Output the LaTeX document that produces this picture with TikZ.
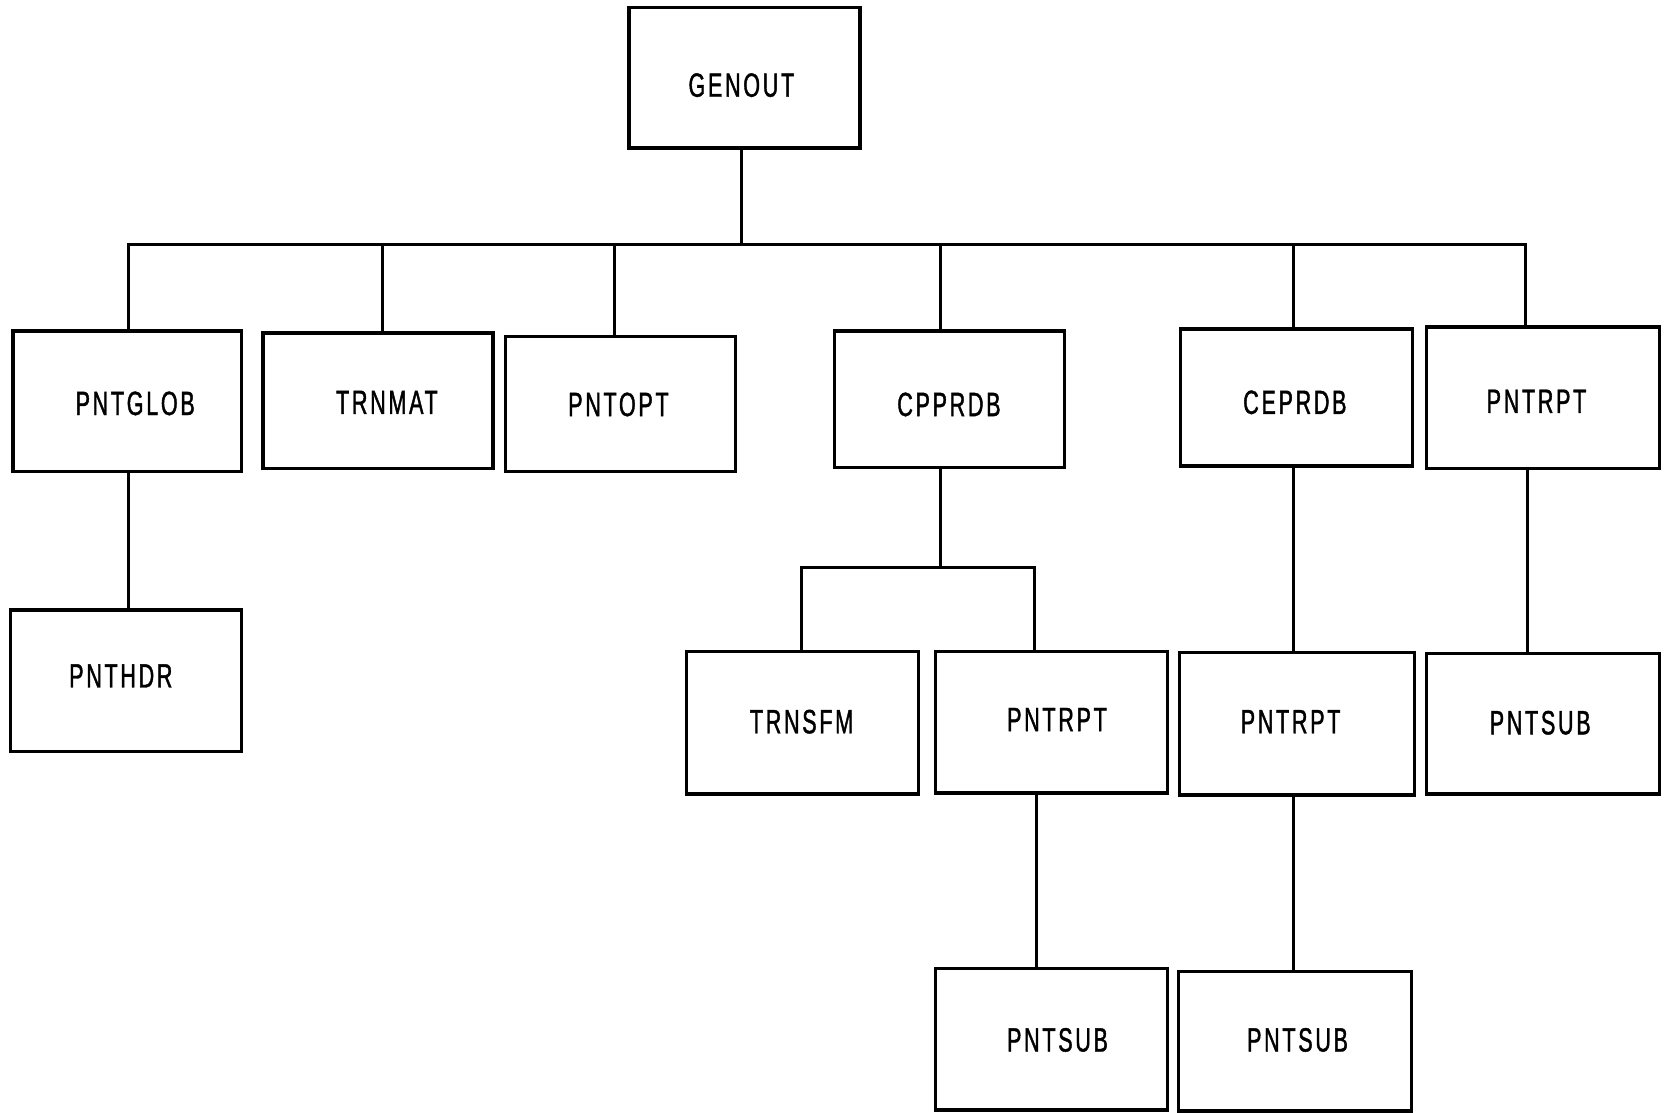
\documentclass[tikz,border=0pt]{standalone}
\usepackage{fontspec}
\newfontfamily\boxfont{Liberation Sans}[FakeStretch=0.64,LetterSpace=8,FakeBold=1.2]
\begin{document}
\begin{tikzpicture}[x=0.02cm,y=-0.02cm,
  box/.style 2 args={draw,line width=1.9pt,inner sep=0pt,
    minimum width={#1*0.02cm},minimum height={#2*0.02cm}},
  lbl/.style={inner sep=0pt,font=\boxfont\fontsize{18}{20}\selectfont},
  link/.style={line width=1.6pt}]
\useasboundingbox (0,0) rectangle (1568,1045);
% boxes
\node[box={217}{132}] (genout) at (699.5,73) {};
\node[box={215}{132}] (pntglob) at (119.5,377) {};
\node[box={216}{127}] (trnmat) at (355,376.5) {};
\node[box={216}{127}] (pntopt) at (583,379.5) {};
\node[box={216}{128}] (cpprdb) at (892,375) {};
\node[box={218}{129}] (ceprdb) at (1218,373.5) {};
\node[box={219}{133}] (pntrpta) at (1449.5,373.5) {};
\node[box={217}{133}] (pnthdr) at (118.5,639.5) {};
\node[box={218}{134}] (trnsfm) at (754,679) {};
\node[box={218}{133}] (pntrptb) at (988,678.5) {};
\node[box={221}{134}] (pntrptc) at (1218.5,680) {};
\node[box={219}{132}] (pntsuba) at (1449.5,680) {};
\node[box={218}{133}] (pntsubb) at (988,976.5) {};
\node[box={219}{131}] (pntsubc) at (1216.5,978) {};
% labels
\node[lbl] (tgenout) at (696.5,80) {GENOUT};
\node[lbl] (tpntglob) at (127,379) {PNTGLOB};
\node[lbl] (ttrnmat) at (363.5,378) {TRNMAT};
\node[lbl] (tpntopt) at (581,380) {PNTOPT};
\node[lbl] (tcpprdb) at (891.5,380) {CPPRDB};
\node[lbl] (tceprdb) at (1216.5,378) {CEPRDB};
\node[lbl] (tpntrpta) at (1443.5,377) {PNTRPT};
\node[lbl] (tpnthdr) at (113.5,635) {PNTHDR};
\node[lbl] (ttrnsfm) at (753,678) {TRNSFM};
\node[lbl] (tpntrptb) at (993,676) {PNTRPT};
\node[lbl] (tpntrptc) at (1212.5,678) {PNTRPT};
\node[lbl] (tpntsuba) at (1447,679) {PNTSUB};
\node[lbl] (tpntsubb) at (993.5,977) {PNTSUB};
\node[lbl] (tpntsubc) at (1219,977) {PNTSUB};
% bus coordinates
\coordinate (bg) at (697,230);
\coordinate (b1) at (121,230);
\coordinate (b2) at (359,230);
\coordinate (b3) at (577,230);
\coordinate (b4) at (884,230);
\coordinate (b5) at (1215,230);
\coordinate (b6) at (1433,230);
\coordinate (cb) at (884,533);
\coordinate (cl) at (753,533);
\coordinate (cr) at (972,533);
% connectors
\draw[link] (genout.south -| bg) -- (bg);
\draw[link,line cap=rect] (b1) -- (b6);
\draw[link] (b1) -- (b1 |- pntglob.north);
\draw[link] (b2) -- (b2 |- trnmat.north);
\draw[link] (b3) -- (b3 |- pntopt.north);
\draw[link] (b4) -- (b4 |- cpprdb.north);
\draw[link] (b5) -- (b5 |- ceprdb.north);
\draw[link] (b6) -- (b6 |- pntrpta.north);
\draw[link] (b1 |- pntglob.south) -- (b1 |- pnthdr.north);
\draw[link] (cb |- cpprdb.south) -- (cb);
\draw[link,line cap=rect] (cl) -- (cr);
\draw[link] (cl) -- (cl |- trnsfm.north);
\draw[link] (cr) -- (cr |- pntrptb.north);
\draw[link] ([xshift=0.04cm]cr |- pntrptb.south) -- ([xshift=0.04cm]cr |- pntsubb.north);
\draw[link] (b5 |- ceprdb.south) -- (b5 |- pntrptc.north);
\draw[link] (b5 |- pntrptc.south) -- (b5 |- pntsubc.north);
\draw[link] ([xshift=0.04cm]b6 |- pntrpta.south) -- ([xshift=0.04cm]b6 |- pntsuba.north);
\end{tikzpicture}
\end{document}
